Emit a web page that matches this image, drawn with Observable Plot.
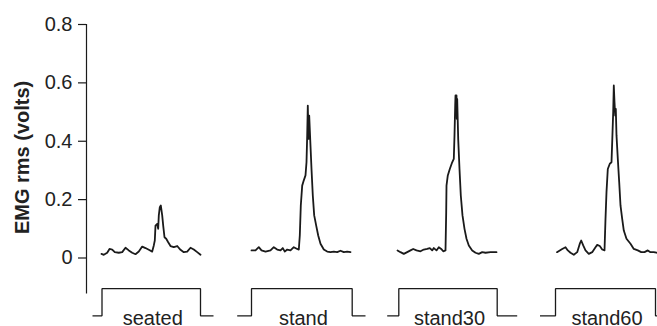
<!DOCTYPE html>
<html><head><meta charset="utf-8">
<script src="https://cdn.jsdelivr.net/npm/d3@7"></script>
<script src="https://cdn.jsdelivr.net/npm/@observablehq/plot@0.6"></script>
<style>
html,body{margin:0;padding:0;background:#fff;}
#chart{width:657px;height:326px;overflow:hidden;}
#chart svg{display:block;}
</style></head><body><div id="chart"></div>
<script>
// Conditions and where each recording starts on the time axis (s)
const conditions = ["seated", "stand", "stand30", "stand60"];
const panelStart = [1.5, 16.5, 31.1, 47.05];

// EMG rms traces (time within recording, s ; volts)
const seatedT = [0, 0.23, 0.57, 0.8, 1.07, 1.33, 1.73, 2.07, 2.4, 2.73, 3.07, 3.4, 3.73, 4.07, 4.4, 4.73, 5.07, 5.23, 5.33, 5.4, 5.57, 5.67, 5.73, 5.83, 5.93, 6.0, 6.07, 6.17, 6.3, 6.47, 6.67, 6.9, 7.23, 7.57, 7.9, 8.23, 8.57, 8.9, 9.23, 9.57, 9.9];
const seatedV = [0.014, 0.011, 0.018, 0.031, 0.029, 0.020, 0.018, 0.020, 0.035, 0.026, 0.018, 0.013, 0.022, 0.039, 0.034, 0.028, 0.022, 0.043, 0.060, 0.111, 0.117, 0.100, 0.146, 0.174, 0.180, 0.163, 0.146, 0.111, 0.071, 0.066, 0.054, 0.041, 0.037, 0.041, 0.028, 0.020, 0.022, 0.035, 0.029, 0.020, 0.011];

const standT = [0, 0.4, 0.73, 1.0, 1.4, 1.9, 2.23, 2.57, 2.9, 3.13, 3.33, 3.57, 3.9, 4.23, 4.57, 4.73, 4.83, 4.93, 5.07, 5.23, 5.4, 5.5, 5.57, 5.63, 5.7, 5.77, 5.87, 6.0, 6.13, 6.27, 6.47, 6.67, 6.9, 7.23, 7.57, 7.9, 8.23, 8.57, 8.9, 9.23, 9.57, 9.9];
const standV = [0.026, 0.026, 0.037, 0.026, 0.022, 0.026, 0.037, 0.029, 0.026, 0.034, 0.022, 0.029, 0.026, 0.037, 0.031, 0.029, 0.077, 0.180, 0.248, 0.266, 0.283, 0.328, 0.42, 0.522, 0.408, 0.488, 0.408, 0.305, 0.214, 0.146, 0.111, 0.077, 0.049, 0.029, 0.022, 0.020, 0.022, 0.020, 0.025, 0.020, 0.022, 0.020];

const stand30T = [0, 0.3, 0.63, 0.97, 1.3, 1.57, 1.9, 2.3, 2.63, 2.97, 3.23, 3.47, 3.63, 3.9, 4.13, 4.37, 4.57, 4.8, 4.87, 4.9, 5.03, 5.23, 5.47, 5.63, 5.7, 5.77, 5.8, 5.9, 5.93, 5.97, 6.07, 6.2, 6.33, 6.5, 6.7, 6.9, 7.13, 7.47, 7.8, 8.13, 8.47, 8.8, 9.3, 9.9];
const stand30V = [0.026, 0.020, 0.014, 0.020, 0.026, 0.031, 0.026, 0.023, 0.029, 0.031, 0.034, 0.026, 0.034, 0.026, 0.037, 0.031, 0.023, 0.026, 0.157, 0.248, 0.283, 0.305, 0.328, 0.340, 0.420, 0.522, 0.557, 0.557, 0.477, 0.545, 0.408, 0.305, 0.214, 0.146, 0.100, 0.066, 0.043, 0.026, 0.018, 0.014, 0.020, 0.018, 0.020, 0.020];

const stand60T = [0, 0.28, 0.52, 0.85, 1.08, 1.35, 1.68, 2.02, 2.28, 2.42, 2.62, 2.85, 3.18, 3.52, 3.85, 4.02, 4.28, 4.52, 4.75, 4.85, 4.95, 5.08, 5.28, 5.45, 5.52, 5.62, 5.68, 5.75, 5.82, 5.88, 5.95, 6.08, 6.22, 6.35, 6.52, 6.68, 6.95, 7.35, 7.68, 8.08, 8.42, 8.75, 9.08, 9.35, 9.68, 9.95];
const stand60V = [0.020, 0.026, 0.031, 0.037, 0.026, 0.018, 0.011, 0.020, 0.049, 0.060, 0.043, 0.026, 0.014, 0.020, 0.037, 0.045, 0.041, 0.029, 0.026, 0.134, 0.226, 0.305, 0.323, 0.328, 0.397, 0.50, 0.591, 0.534, 0.488, 0.511, 0.420, 0.340, 0.26, 0.180, 0.134, 0.094, 0.066, 0.049, 0.031, 0.026, 0.020, 0.020, 0.026, 0.020, 0.020, 0.018];

// Event marker (step) timing relative to recording start (s)
const stepOn = [0.05, 0, 0.13, -0.15];
const stepOff = [9.9, 10.07, 9.97, 9.85];
const lowFrom = [-0.9, -1.43, -1.03, -1.7];
const lowTo = [11.2, 11.4, 11.97, 10.2];
const stepHigh = -0.105;
const stepLow = -0.198;

// Axis
const yTicks = [0, 0.2, 0.4, 0.6, 0.8];
const yTickLabels = ["0", "0.2", "0.4", "0.6", "0.8"];
const yLabel = "EMG rms (volts)";
const axisBottom = -0.123;

const traceT = [seatedT, standT, stand30T, stand60T];
const traceV = [seatedV, standV, stand30V, stand60V];

const traces = conditions.flatMap((c, i) =>
  traceT[i].map((t, j) => ({cond: c, x: panelStart[i] + t, y: traceV[i][j]})));

const steps = conditions.flatMap((c, i) => {
  const s = panelStart[i];
  return [
    [lowFrom[i], stepLow], [stepOn[i], stepLow], [stepOn[i], stepHigh],
    [stepOff[i], stepHigh], [stepOff[i], stepLow], [lowTo[i], stepLow]
  ].map(([t, y]) => ({cond: c, x: s + t, y}));
});

const labels = conditions.map((c, i) => ({
  cond: c, x: panelStart[i] + (stepOn[i] + stepOff[i]) / 2 + 0.15, y: -0.2347
}));

const font = "'Liberation Sans', Arial, Helvetica, sans-serif";
const ink = "#1a1a1a";

const chart = Plot.plot({
  width: 657,
  height: 326,
  marginLeft: 86,
  marginRight: 0,
  marginTop: 24,
  marginBottom: 0,
  style: {fontFamily: font, background: "#fff", overflow: "visible"},
  x: {domain: [0, 57.1], axis: null},
  y: {domain: [-0.2347, 0.8], axis: null},
  marks: [
    Plot.ruleX([0], {y1: axisBottom, y2: 0.8, stroke: ink, strokeWidth: 1.2}),
    Plot.axisY({
      ticks: yTicks,
      tickFormat: (d) => yTickLabels[yTicks.indexOf(d)],
      tickSize: 8,
      tickPadding: 6,
      fontSize: 20,
      stroke: ink,
      strokeWidth: 1.2,
      strokeOpacity: 1,
      fill: "#222",
      label: null
    }),
    Plot.text([yLabel], {
      frameAnchor: "left",
      y: [(axisBottom + 0.8) / 2 + 0.006],
      dx: -64,
      rotate: -90,
      fontSize: 20,
      fontWeight: "bold",
      fill: "#222",
      textAnchor: "middle",
      lineAnchor: "middle"
    }),
    Plot.line(traces, {x: "x", y: "y", z: "cond", stroke: ink, strokeWidth: 1.8}),
    Plot.line(steps, {x: "x", y: "y", z: "cond", stroke: ink, strokeWidth: 1.3, strokeLinejoin: "miter", strokeLinecap: "butt"}),
    Plot.text(labels, {x: "x", y: "y", text: "cond", fontSize: 20, fill: "#222", textAnchor: "middle", lineAnchor: "bottom", dy: -1.5})
  ]
});

document.getElementById("chart").appendChild(chart);
</script>
</body></html>
